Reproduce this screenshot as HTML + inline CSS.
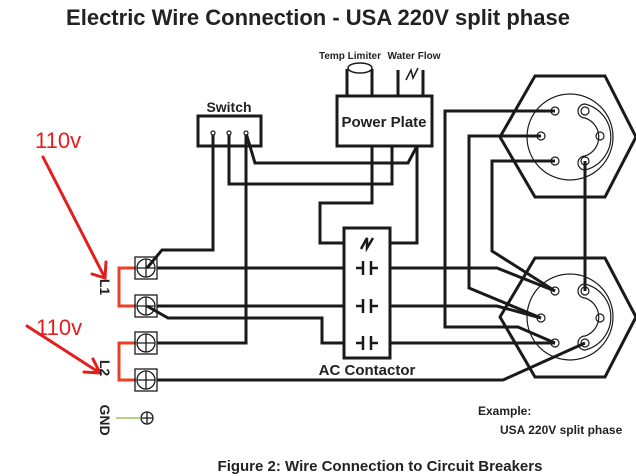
<!DOCTYPE html>
<html><head><meta charset="utf-8"><style>
html,body{margin:0;padding:0;background:#fff;}
svg{display:block;}
text{font-family:"Liberation Sans",sans-serif;}
</style></head><body>
<svg width="636" height="476" viewBox="0 0 636 476" xmlns="http://www.w3.org/2000/svg">
<text x="318" y="25" font-size="22" font-weight="bold" text-anchor="middle" fill="#222">Electric Wire Connection -  USA 220V split phase</text>

<g fill="none" stroke="#1a1a1a" stroke-width="3" stroke-linejoin="miter">
<!-- Switch -->
<rect x="198" y="116" width="63" height="30"/>
<!-- Power plate -->
<rect x="337" y="96" width="95" height="50"/>
<!-- temp limiter legs -->
<path d="M347 96V69M372 96V69M398 96V70M423 96V70"/>
<!-- contactor -->
<rect x="344" y="228" width="46" height="130"/>
<!-- switch wires -->
<path d="M213 133V250H162L147 268"/>
<path d="M229 133V184H392V146"/>
<path d="M246 133L255 163H408L417 146"/>
<path d="M246 133V343H157"/>
<path d="M372 146V203H320V243H344"/>
<path d="M417 146V243H390"/>
<!-- terminal rows -->
<path d="M157 268H344M390 268H497L555 291"/>
<path d="M157 306H344M390 306H497L541 318"/>
<path d="M147 306L168 318H322V343H344M390 343H555"/>
<path d="M157 380H503L585 343"/>
<!-- heater wires -->
<path d="M555 111H445V327H518L555 343"/>
<path d="M541 136H469V288L541 318"/>
<path d="M555 161H492V251L555 291"/>
<path d="M585 161V291"/>
<!-- hexagons -->
<path d="M535 76H605L636 137L605 197H535L500 137Z"/>
<path d="M535 258H605L636 317L605 377H535L500 317Z"/>
</g>
<!-- contactor symbols -->
<g stroke="#1a1a1a" stroke-width="2.5" fill="none">
<path d="M361 249L367 238V248L373 238"/>
<path d="M356 268H363M363 261V275M371 261V275M371 268H378"/>
<path d="M356 306H363M363 299V313M371 299V313M371 306H378"/>
<path d="M356 343H363M363 336V350M371 336V350M371 343H378"/>
<path d="M406 80L411 70L413 78L418 68" stroke-width="1.5"/>
</g>
<ellipse cx="360" cy="68" rx="12" ry="5" fill="#fff" stroke="#1a1a1a" stroke-width="1.5"/>
<!-- switch pins -->
<g fill="#fff" stroke="#1a1a1a" stroke-width="1.2">
<circle cx="213" cy="133" r="2"/><circle cx="229" cy="133" r="2"/><circle cx="246" cy="133" r="2"/>
</g>
<!-- heater circles -->
<g fill="none" stroke="#1a1a1a" stroke-width="1.2">
<circle cx="570" cy="137" r="43"/>
<circle cx="570" cy="317" r="43"/>
<path d="M585 104A34 34 0 0 1 585 170A7 7 0 0 1 585 156A20 20 0 0 0 585 118A7 7 0 0 1 585 104Z"/>
<path d="M585 284A34 34 0 0 1 585 350A7 7 0 0 1 585 336A20 20 0 0 0 585 298A7 7 0 0 1 585 284Z"/>
<circle cx="555" cy="111" r="4"/><circle cx="541" cy="136" r="4"/><circle cx="555" cy="161" r="4"/>
<circle cx="585" cy="111" r="4"/><circle cx="600" cy="136" r="4"/><circle cx="585" cy="161" r="4"/>
<circle cx="555" cy="291" r="4"/><circle cx="541" cy="318" r="4"/><circle cx="555" cy="343" r="4"/>
<circle cx="585" cy="291" r="4"/><circle cx="600" cy="318" r="4"/><circle cx="585" cy="343" r="4"/>
</g>
<!-- red brackets -->
<path d="M136 268H119V306H136M136 343H119V380H136" fill="none" stroke="#e8402a" stroke-width="3"/>
<!-- terminals -->
<g fill="none" stroke="#1a1a1a" stroke-width="1.3">
<rect x="135" y="257" width="22" height="22"/><circle cx="146" cy="268" r="9"/><path d="M137 268H155M146 259V277"/>
<rect x="135" y="295" width="22" height="22"/><circle cx="146" cy="306" r="9"/><path d="M137 306H155M146 297V315"/>
<rect x="135" y="332" width="22" height="22"/><circle cx="146" cy="343" r="9"/><path d="M137 343H155M146 334V352"/>
<rect x="135" y="369" width="22" height="22"/><circle cx="146" cy="380" r="9"/><path d="M137 380H155M146 371V389"/>
<circle cx="147" cy="418" r="6"/><path d="M141 418H153M147 412V424"/>
</g>
<path d="M116 418H141" stroke="#9bc45a" stroke-width="1.5"/>
<!-- red arrows -->
<g stroke="#e41e1e" stroke-width="3" fill="none" stroke-linecap="round">
<path d="M43 157L105 278M92 274L105 278L106 262"/>
<path d="M27 326L100 373M84 372L100 373L93 359"/>
</g>
<text x="35" y="148" font-size="22" fill="#e41e1e">110v</text>
<text x="36" y="335" font-size="22" fill="#e41e1e">110v</text>
<!-- labels -->
<g font-weight="bold" fill="#222">
<text x="229" y="112" font-size="14" text-anchor="middle">Switch</text>
<text x="384" y="127" font-size="15" text-anchor="middle">Power Plate</text>
<text x="350" y="59" font-size="10" text-anchor="middle">Temp Limiter</text>
<text x="414" y="59" font-size="10" text-anchor="middle">Water Flow</text>
<text x="367" y="375" font-size="15" text-anchor="middle">AC Contactor</text>
<text x="478" y="415" font-size="12">Example:</text>
<text x="500" y="434" font-size="12">USA 220V split phase</text>
<text x="380" y="471" font-size="15" text-anchor="middle">Figure 2: Wire Connection to Circuit Breakers</text>
<text transform="translate(100,287) rotate(90)" font-size="14" text-anchor="middle">L1</text>
<text transform="translate(100,368) rotate(90)" font-size="14" text-anchor="middle">L2</text>
<text transform="translate(100,420) rotate(90)" font-size="14" text-anchor="middle">GND</text>
</g>
</svg>
</body></html>
